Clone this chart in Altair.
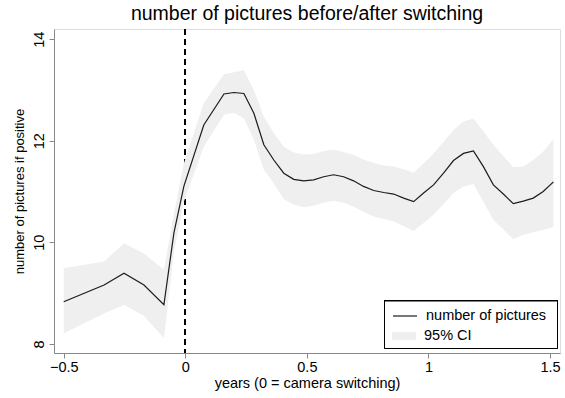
import altair as alt
import pandas as pd

# years relative to camera switching
x_vals = [-0.500, -0.334, -0.252, -0.170, -0.088, -0.047, -0.006, 0.076, 0.159, 0.200,
          0.241, 0.282, 0.323, 0.364, 0.405, 0.446, 0.487, 0.528, 0.569, 0.610,
          0.651, 0.692, 0.733, 0.775, 0.816, 0.857, 0.898, 0.939, 0.980, 1.021,
          1.062, 1.103, 1.144, 1.185, 1.226, 1.267, 1.308, 1.349, 1.390, 1.431,
          1.472, 1.514]
# number of pictures (point estimate)
y_vals = [8.83, 9.16, 9.39, 9.16, 8.77, 10.18, 11.10, 12.31, 12.92, 12.95,
          12.93, 12.54, 11.92, 11.62, 11.36, 11.24, 11.21, 11.23, 11.29, 11.33,
          11.29, 11.21, 11.10, 11.02, 10.98, 10.95, 10.87, 10.80, 10.97, 11.13,
          11.36, 11.61, 11.75, 11.80, 11.49, 11.13, 10.95, 10.76, 10.81, 10.87,
          11.00, 11.19]
# 95% CI lower / upper bounds
lo_vals = [8.21, 8.60, 8.77, 8.55, 8.11, 9.80, 10.80, 11.88, 12.51, 12.55,
           12.44, 12.02, 11.43, 11.16, 10.85, 10.74, 10.69, 10.72, 10.78, 10.82,
           10.78, 10.70, 10.60, 10.51, 10.46, 10.41, 10.32, 10.22, 10.38, 10.54,
           10.75, 10.97, 11.10, 11.15, 10.80, 10.44, 10.25, 10.06, 10.15, 10.20,
           10.24, 10.30]
hi_vals = [9.49, 9.62, 9.98, 9.78, 9.46, 10.55, 11.55, 12.74, 13.31, 13.35,
           13.39, 13.00, 12.47, 12.15, 11.88, 11.77, 11.73, 11.74, 11.80, 11.82,
           11.78, 11.72, 11.63, 11.56, 11.51, 11.49, 11.44, 11.37, 11.55, 11.75,
           11.98, 12.21, 12.38, 12.44, 12.18, 11.92, 11.70, 11.48, 11.49, 11.62,
           11.79, 12.03]

x_ticks = [-0.5, 0, 0.5, 1, 1.5]
y_ticks = [8, 10, 12, 14]
series_names = ["number of pictures", "95% CI"]

df = pd.DataFrame({"x": x_vals, "y": y_vals, "lo": lo_vals, "hi": hi_vals})

FONT = "Liberation Sans"
W, H = 506, 324

xscale = alt.Scale(domain=[-0.54, 1.541], nice=False, zero=False)
yscale = alt.Scale(domain=[7.82, 14.2], nice=False, zero=False)

xaxis = alt.Axis(values=x_ticks, format=".1~f", title="years (0 = camera switching)",
                 grid=False, tickSize=5, labelFontSize=14.5, titleFontSize=14.5,
                 titleFontWeight="normal", labelPadding=2, titlePadding=3)
yaxis = alt.Axis(values=y_ticks, title="number of pictures if positive", grid=False,
                 tickSize=5, labelAngle=-90, labelFontSize=14.5, titleFontSize=13,
                 titleFontWeight="normal", labelPadding=3, titlePadding=5)

base = alt.Chart(df)

zero_rule = alt.Chart(df).mark_rule(color="black", strokeDash=[6, 4], strokeWidth=1).encode(
    x=alt.datum(0, scale=xscale, axis=xaxis)
)

band = base.mark_area(opacity=1).encode(
    x=alt.X("x:Q", scale=xscale, axis=xaxis),
    y=alt.Y("lo:Q", scale=yscale, axis=yaxis),
    y2="hi:Q",
    fill=alt.Fill("s:N",
                  scale=alt.Scale(domain=[series_names[1]], range=["#efefef"]),
                  legend=alt.Legend(title=None, orient="none", legendX=338, legendY=295,
                                    symbolType="M-1,-0.32H1V0.32H-1Z", symbolSize=576,
                                    symbolStrokeWidth=0, labelFontSize=14.5, labelFont=FONT,
                                    labelColor="black", labelOffset=8, padding=0)),
).transform_calculate(s="'95% CI'")

line = base.mark_line(strokeWidth=1.2).encode(
    x=alt.X("x:Q", scale=xscale, axis=xaxis),
    y=alt.Y("y:Q", scale=yscale, axis=yaxis),
    stroke=alt.Stroke("s:N",
                      scale=alt.Scale(domain=[series_names[0]], range=["#1c1c1c"]),
                      legend=alt.Legend(title=None, orient="none", legendX=338, legendY=274,
                                        symbolType="stroke", symbolSize=576,
                                        symbolStrokeWidth=1.2, labelFontSize=14.5,
                                        labelFont=FONT, labelColor="black", labelOffset=8,
                                        padding=0)),
).transform_calculate(s="'number of pictures'")

legend_box = alt.Chart(df).mark_rect(fill="white", stroke="black", strokeWidth=1).encode(
    x=alt.value(330.5), x2=alt.value(503.5), y=alt.value(272), y2=alt.value(319.5)
)

chart = alt.layer(zero_rule, band, line, legend_box).properties(
    width=W, height=H,
    title=alt.TitleParams("number of pictures before/after switching", fontSize=19.5,
                          fontWeight="normal", font=FONT, color="black", anchor="middle",
                          offset=4),
    autosize=alt.AutoSizeParams(type="none"),
    padding={"left": 54, "top": 29, "right": 5, "bottom": 45},
).resolve_scale(fill="independent", stroke="independent").configure_view(
    stroke="black", strokeWidth=1
).configure_axis(
    labelFont=FONT, titleFont=FONT, labelColor="black", titleColor="black",
    domainColor="black", tickColor="black", titleFontWeight="normal"
).configure_title(fontWeight="normal").configure(background="white")

chart.save("out.html", embed_options={"renderer": "svg", "actions": False})
